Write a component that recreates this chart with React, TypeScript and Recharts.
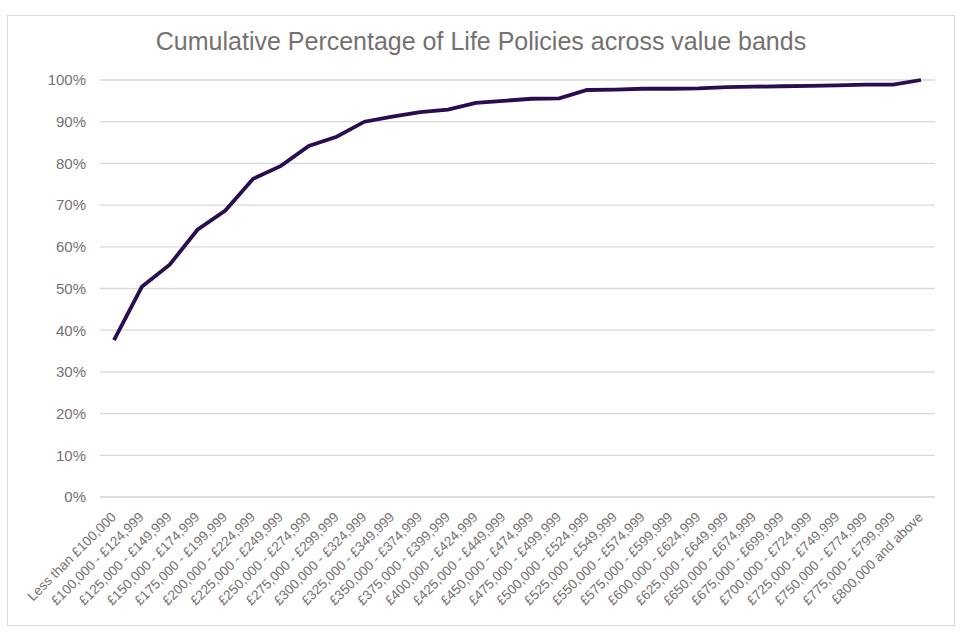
import React from "react";
import { LineChart, Line, XAxis, YAxis, CartesianGrid } from "recharts";

const categories: string[] = [
  "Less than £100,000",
  "£100,000 - £124,999",
  "£125,000 - £149,999",
  "£150,000 - £174,999",
  "£175,000 - £199,999",
  "£200,000 - £224,999",
  "£225,000 - £249,999",
  "£250,000 - £274,999",
  "£275,000 - £299,999",
  "£300,000 - £324,999",
  "£325,000 - £349,999",
  "£350,000 - £374,999",
  "£375,000 - £399,999",
  "£400,000 - £424,999",
  "£425,000 - £449,999",
  "£450,000 - £474,999",
  "£475,000 - £499,999",
  "£500,000 - £524,999",
  "£525,000 - £549,999",
  "£550,000 - £574,999",
  "£575,000 - £599,999",
  "£600,000 - £624,999",
  "£625,000 - £649,999",
  "£650,000 - £674,999",
  "£675,000 - £699,999",
  "£700,000 - £724,999",
  "£725,000 - £749,999",
  "£750,000 - £774,999",
  "£775,000 - £799,999",
  "£800,000 and above",
];

const cumulativePct: number[] = [
  37.6, 50.4, 55.7, 64.1, 68.7, 76.3, 79.4, 84.2, 86.4, 90.0,
  91.2, 92.3, 92.9, 94.5, 95.0, 95.5, 95.6, 97.6, 97.7, 97.9,
  97.9, 98.0, 98.3, 98.4, 98.5, 98.6, 98.7, 98.9, 98.9, 100.0,
];

const yTicks: number[] = [0, 10, 20, 30, 40, 50, 60, 70, 80, 90, 100];

const data = categories.map((band, i) => ({ band, value: cumulativePct[i] }));

const TEXT = "#767171";
const FONT = "'Liberation Sans', Arial, sans-serif";

const XTick = (props: any) => {
  const { x, y, payload } = props;
  return (
    <g transform={`translate(${x},${y})`}>
      <text
        transform="rotate(-45)"
        textAnchor="end"
        x={0}
        y={0}
        dy={4}
        fontSize={13.5}
        fontFamily={FONT}
        fill={TEXT}
      >
        {payload.value}
      </text>
    </g>
  );
};

export default function App() {
  return (
    <div style={{ position: "absolute", left: 0, top: 0, width: 960, height: 640, background: "#fff" }}>
      <div
        style={{
          position: "absolute",
          left: 7,
          top: 15,
          width: 946,
          height: 609,
          border: "1px solid #d9d9d9",
        }}
      />
      <div
        style={{
          position: "absolute",
          left: 0,
          top: 27,
          width: 962,
          textAlign: "center",
          fontFamily: FONT,
          fontSize: 25,
          color: TEXT,
          whiteSpace: "pre",
        }}
      >
        Cumulative Percentage of Life Policies across value bands
      </div>
      <div style={{ position: "absolute", left: 0, top: 0 }}>
        <LineChart
          width={960}
          height={640}
          data={data}
          margin={{ top: 80, right: 25, left: 40, bottom: 23 }}
        >
          <CartesianGrid vertical={false} stroke="#d9d9d9" strokeWidth={1.3} />
          <XAxis
            dataKey="band"
            interval={0}
            height={120}
            padding={{ left: 14, right: 14 }}
            axisLine={{ stroke: "#d9d9d9", strokeWidth: 1.3 }}
            tickLine={false}
            tick={<XTick />}
            tickSize={0}
            tickMargin={18}
          />
          <YAxis
            width={60}
            domain={[0, 100]}
            ticks={yTicks}
            interval={0}
            axisLine={false}
            tickLine={false}
            tickSize={0}
            tickMargin={14}
            tickFormatter={(v: number) => `${v}%`}
            tick={{ fill: TEXT, fontSize: 15, fontFamily: FONT }}
          />
          <Line
            type="linear"
            dataKey="value"
            stroke="#2a0c50"
            strokeWidth={3.8}
            dot={false}
            activeDot={false}
            isAnimationActive={false}
          />
        </LineChart>
      </div>
    </div>
  );
}
